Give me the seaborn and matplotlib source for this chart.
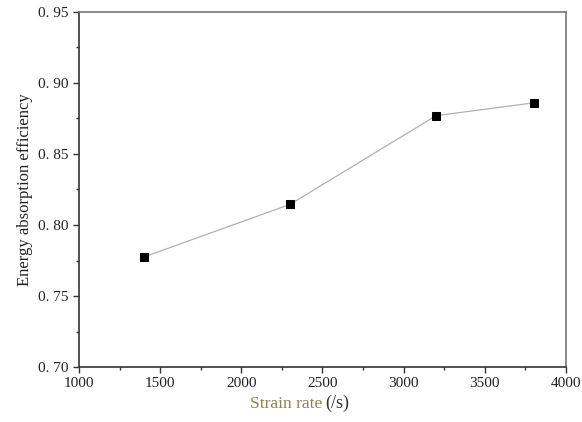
import matplotlib
matplotlib.use("Agg")
import matplotlib.pyplot as plt
import seaborn as sns
import pandas as pd
from matplotlib.ticker import MultipleLocator, FixedLocator, FixedFormatter

# data
strain_rate = [1400, 2300, 3200, 3800]
efficiency = [0.7775, 0.8145, 0.877, 0.886]

x_ticks = [1000, 1500, 2000, 2500, 3000, 3500, 4000]
y_ticks = [0.70, 0.75, 0.80, 0.85, 0.90, 0.95]
y_tick_labels = ["0. 70", "0. 75", "0. 80", "0. 85", "0. 90", "0. 95"]

sns.set_theme(style="ticks")
plt.rcParams["font.family"] = ["Liberation Serif", "DejaVu Serif"]

df = pd.DataFrame({"rate": strain_rate, "eff": efficiency})

fig = plt.figure(figsize=(5.82, 4.22), dpi=100)
ax = fig.add_axes([0.1357, 0.1303, 0.8368, 0.8413])

sns.lineplot(data=df, x="rate", y="eff", ax=ax, color="#b0b0b0", lw=0.9,
             marker="s", markersize=5.5, markerfacecolor="black",
             markeredgecolor="black")

ax.set_xlim(1000, 4000)
ax.set_ylim(0.70, 0.95)
ax.xaxis.set_major_locator(FixedLocator(x_ticks))
ax.xaxis.set_minor_locator(MultipleLocator(250))
ax.yaxis.set_major_locator(FixedLocator(y_ticks))
ax.yaxis.set_major_formatter(FixedFormatter(y_tick_labels))
ax.yaxis.set_minor_locator(MultipleLocator(0.025))
ax.tick_params(which="major", direction="out", length=4, width=1,
               color="#333333", labelsize=11, labelcolor="#222222")
ax.tick_params(which="minor", direction="out", length=2.5, width=1,
               color="#333333")

for side in ["left", "bottom"]:
    ax.spines[side].set_color("#333333")
    ax.spines[side].set_linewidth(1.2)
for side in ["top", "right"]:
    ax.spines[side].set_visible(True)
    ax.spines[side].set_color("#777777")
    ax.spines[side].set_linewidth(1.2)

ax.set_xlabel("")
ax.set_ylabel("Energy absorption efficiency", fontsize=12, color="#222222",
              labelpad=4)

# x label in two colours
fig.text(0.553, 0.033, "Strain rate", fontsize=12.5, color="#8a8450",
         ha="right", va="baseline")
fig.text(0.558, 0.033, "(/s)", fontsize=13, color="#333333",
         ha="left", va="baseline")

plt.savefig("out.png", dpi=100)
plt.close()
